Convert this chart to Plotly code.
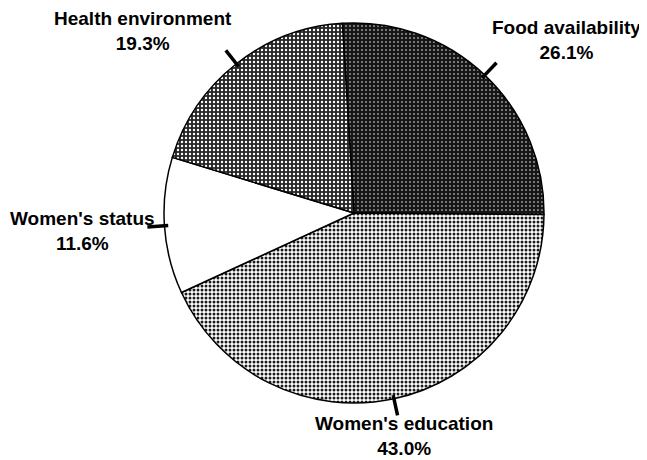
import math
import plotly.graph_objects as go

labels = ["Food availability", "Women's education", "Women's status", "Health environment"]
values = [26.1, 43.0, 11.6, 19.3]
pct_text = ["26.1%", "43.0%", "11.6%", "19.3%"]

OFF = 8                      # browser body margin
W, H = 647 - OFF, 460 - OFF  # figure size
CX, CY, R = 354, 213, 190    # pie centre / radius in page pixels
ROT = -3.5


def px2paper(px, py):
    return (px - OFF) / W, 1 - (py - OFF) / H


bg = ["#161616", "#ffffff", "#ffffff", "#262626"]
fg = ["#ffffff", "#1a1a1a", "#ffffff", "#ffffff"]
sol = [0.12, 0.45, 0.0, 0.28]
shapes_pat = [".", ".", "", "."]

x0d, y1d = px2paper(CX - R, CY - R)
x1d, y0d = px2paper(CX + R, CY + R)

fig = go.Figure(go.Pie(
    labels=labels, values=values, sort=False, direction="clockwise", rotation=ROT,
    textinfo="none", hoverinfo="label+percent", showlegend=False,
    marker=dict(colors=bg, line=dict(color="black", width=1.5),
                pattern=dict(shape=shapes_pat, fgcolor=fg, bgcolor=bg, size=4, solidity=sol,
                             fillmode="replace")),
    domain=dict(x=[x0d, x1d], y=[y0d, y1d]),
))

label_pos = {
    "Food availability": (566, 40),
    "Women's education": (404, 436),
    "Women's status": (82, 231),
    "Health environment": (143, 31),
}
annotations = []
for lab, pt in zip(labels, pct_text):
    ax, ay = px2paper(*label_pos[lab])
    annotations.append(dict(x=ax, y=ay, xref="paper", yref="paper",
                            text=f"{lab}<br>{pt}", showarrow=False, xanchor="center", yanchor="middle",
                            font=dict(family="Liberation Sans, Arial", size=19, color="black", weight="bold"),
                            align="center"))

total = sum(values)
shapes = []
cum = 0
for v in values:
    mid = math.radians(ROT + 360 * (cum + v / 2) / total)
    cum += v
    a = px2paper(CX + 0.98 * R * math.sin(mid), CY - 0.98 * R * math.cos(mid))
    b = px2paper(CX + 1.09 * R * math.sin(mid), CY - 1.09 * R * math.cos(mid))
    shapes.append(dict(type="line", xref="paper", yref="paper",
                       x0=a[0], y0=a[1], x1=b[0], y1=b[1],
                       line=dict(color="black", width=3.5)))

fig.update_layout(width=W, height=H, margin=dict(l=0, r=0, t=0, b=0),
                  paper_bgcolor="white", plot_bgcolor="white",
                  annotations=annotations, shapes=shapes,
                  font=dict(family="Liberation Sans, Arial"))
fig.write_html("out.html")
